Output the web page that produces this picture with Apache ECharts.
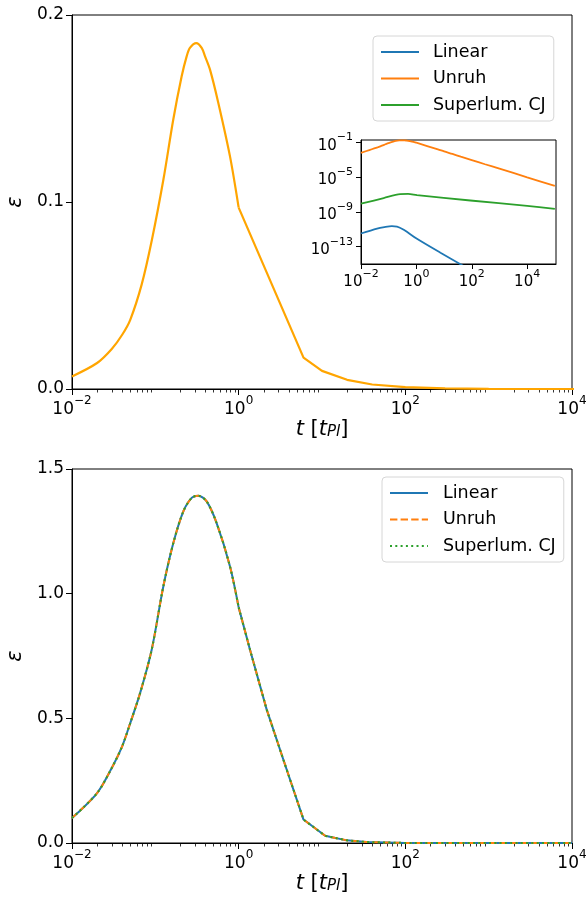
<!DOCTYPE html>
<html><head><meta charset="utf-8">
<script src="https://cdn.jsdelivr.net/npm/echarts@6/dist/echarts.min.js"></script>
<style>html,body{margin:0;padding:0;background:#fff}#c{width:587px;height:899px}</style>
</head><body><div id="c"></div>
<script>
// ---- data ----
// Unruh epsilon (top main panel in orange, inset in tab:orange)
const tUnruh   = [0.01, 0.02, 0.03, 0.04, 0.05, 0.0685, 0.091, 0.125, 0.164, 0.207, 0.238, 0.26, 0.31, 0.36, 0.394, 0.453, 0.57, 0.787, 1.0, 6.0, 10, 20, 40, 100, 300, 1000, 10000, 100000];
const epsUnruh = [0.0067, 0.0139, 0.0214, 0.029, 0.037, 0.0558, 0.0798, 0.112, 0.144, 0.1672, 0.178, 0.1824, 0.185, 0.1824, 0.178, 0.1708, 0.153, 0.1244, 0.097, 0.0168, 0.0097, 0.0049, 0.0024, 0.00097, 0.00032, 0.0001, 0.00001, 0.000001];
// Linear epsilon (inset)
const tLinear   = [0.01, 0.038, 0.07, 0.13, 0.2, 0.35, 1.05, 7.4, 39, 100, 100000];
const epsLinear = [3.3e-12, 1.23e-11, 1.8e-11, 2.3e-11, 2.1e-11, 8.9e-12, 8.1e-13, 2.0e-14, 9.5e-16, 1.6e-16, 3.2e-22];
// Superluminal CJ epsilon (inset)
const tSuper   = [0.01, 0.066, 0.26, 0.5, 1.05, 89, 10000, 100000];
const epsSuper = [8.9e-9, 4.0e-8, 1.15e-7, 1.2e-7, 8.7e-8, 2.1e-8, 5.0e-9, 2.3e-9];
// Bottom panel: all three models coincide
const tBottom   = [0.01, 0.02, 0.03, 0.04, 0.05, 0.0655, 0.0904, 0.1247, 0.1644, 0.2168, 0.2729, 0.328, 0.413, 0.544, 0.787, 1.0, 1.368, 2.17, 3.44, 6.0, 10.9, 19.8, 34, 100, 1000, 10000];
const epsBottom = [0.100, 0.200, 0.301, 0.388, 0.481, 0.600, 0.775, 1.029, 1.203, 1.33, 1.384, 1.393, 1.37, 1.283, 1.109, 0.945, 0.775, 0.535, 0.334, 0.094, 0.029, 0.0106, 0.004, 0.00035, 0.0000035, 0.00000004];

const seriesNames = ['Linear', 'Unruh', 'Superlum. CJ'];
const mainXTicks  = [0.01, 1, 100, 10000];
const insetXTicks = [0.01, 1, 100, 10000];
const insetYTicks = [1e-13, 1e-9, 1e-5, 1e-1];
const topYTicks = [0, 0.1, 0.2];
const bottomYTicks = [0, 0.5, 1.0, 1.5];

// ---- helpers ----
const zip = (a, b) => a.map((x, i) => [x, b[i]]);
// rising/peak part (t <= 1) drawn smooth, the sparse tail (t >= 1) straight
const head = (a, b) => zip(a, b).filter(p => p[0] <= 1);
const tail = (a, b) => zip(a, b).filter(p => p[0] >= 1);
const minorTicks = [];
for (let k = -2; k < 4; k++) for (let m = 2; m <= 9; m++) minorTicks.push(m * Math.pow(10, k));
const FONT = 'DejaVu Sans';
const C = {blue: '#1f77b4', orange: '#ff7f0e', green: '#2ca02c'};

function powLabel(v) {
  const e = Math.round(Math.log10(v));
  return '{b|10}{s|' + (e < 0 ? '\u2212' + (-e) : String(e)) + '}';
}
function richFor(size) {
  return {
    b: {fontSize: size, fontFamily: FONT, color: '#000', lineHeight: size + 6, verticalAlign: 'bottom'},
    s: {fontSize: Math.round(size * 0.7), fontFamily: FONT, color: '#000', verticalAlign: 'top'}
  };
}
const axLine = {show: true, lineStyle: {color: '#000', width: 1}};

function mainX(grid, withName) {
  return {
    type: 'log', gridIndex: grid, min: 0.01, max: 10000, position: 'bottom',
    axisLine: axLine, splitLine: {show: false}, minorTick: {show: false},
    axisTick: {show: true, customValues: mainXTicks, length: 6, lineStyle: {color: '#000', width: 1}},
    axisLabel: {customValues: mainXTicks, formatter: powLabel, rich: richFor(17), margin: 6},
    name: withName ? '{i|t} [{i|t}{sub|Pl}]' : '',
    nameLocation: 'middle', nameGap: 29,
    nameTextStyle: {fontSize: 21, fontFamily: FONT, color: '#000',
      rich: {i: {fontSize: 21, fontFamily: FONT, fontStyle: 'italic', color: '#000'},
             sub: {fontSize: 15, fontFamily: FONT, fontStyle: 'italic', color: '#000', verticalAlign: 'bottom', padding: [6, 0, 0, 0]}}}
  };
}
function minorX(grid) {
  return {
    type: 'log', gridIndex: grid, min: 0.01, max: 10000, position: 'bottom',
    axisLine: {show: false}, splitLine: {show: false}, axisLabel: {show: false},
    axisTick: {show: true, customValues: minorTicks, length: 3.5, lineStyle: {color: '#000', width: 0.8}}
  };
}
function mainY(grid, max, ticks) {
  return {
    type: 'value', gridIndex: grid, min: 0, max: max, interval: ticks[1] - ticks[0],
    axisLine: axLine, splitLine: {show: false},
    axisTick: {show: true, length: 6, lineStyle: {color: '#000', width: 1}},
    axisLabel: {fontSize: 17, fontFamily: FONT, color: '#000', margin: 8, formatter: v => v.toFixed(1)},
    name: '\u03b5', nameLocation: 'middle', nameRotate: 90, nameGap: 37,
    nameTextStyle: {fontSize: 21, fontFamily: FONT, fontStyle: 'italic', color: '#000'}
  };
}

const legendBase = {
  orient: 'vertical', itemWidth: 38, itemHeight: 14, itemGap: 6.5,
  backgroundColor: 'rgba(255,255,255,0.8)', borderColor: '#d6d6d6', borderWidth: 1, borderRadius: 4,
  selectedMode: false, itemStyle: {opacity: 0},
  textStyle: {fontSize: 17.5, fontFamily: FONT, color: '#000', lineHeight: 20}
};

function ln(name, xi, yi, data, color, width, type, smooth) {
  return {name: name, type: 'line', xAxisIndex: xi, yAxisIndex: yi, data: data, symbol: 'none',
    showSymbol: false, color: color, smooth: smooth, lineStyle: {width: width, type: type || 'solid'}};
}

const option = {
  animation: false,
  backgroundColor: '#fff',
  grid: [
    {left: 72, top: 15, width: 500, height: 374, show: true, borderColor: '#000', borderWidth: 1, backgroundColor: 'transparent', containLabel: false, outerBoundsMode: 'none'},
    {left: 72, top: 469, width: 500, height: 374, show: true, borderColor: '#000', borderWidth: 1, backgroundColor: 'transparent', containLabel: false, outerBoundsMode: 'none'},
    {left: 361, top: 140, width: 195, height: 124, show: true, borderColor: '#000', borderWidth: 1, backgroundColor: '#fff', containLabel: false, outerBoundsMode: 'none'}
  ],
  xAxis: [
    mainX(0, true), minorX(0), mainX(1, true), minorX(1),
    {
      type: 'log', gridIndex: 2, min: 0.01, max: 110000, position: 'bottom',
      axisLine: axLine, splitLine: {show: false}, minorTick: {show: false},
      axisTick: {show: true, customValues: insetXTicks, length: 5, lineStyle: {color: '#000', width: 1}},
      axisLabel: {customValues: insetXTicks, formatter: powLabel, rich: richFor(15), margin: 5}
    }
  ],
  yAxis: [
    mainY(0, 0.2, topYTicks), mainY(1, 1.5, bottomYTicks),
    {
      type: 'log', gridIndex: 2, min: 1e-15, max: 0.2,
      axisLine: axLine, splitLine: {show: false}, minorTick: {show: false},
      axisTick: {show: true, customValues: insetYTicks, length: 5, lineStyle: {color: '#000', width: 1}},
      axisLabel: {customValues: insetYTicks, formatter: powLabel, rich: richFor(15), margin: 8}
    }
  ],
  legend: [
    Object.assign({}, legendBase, {data: seriesNames, left: 373, top: 36, padding: [6, 8, 6, 7],
      textStyle: Object.assign({}, legendBase.textStyle, {padding: [0, 0, 0, 9]})}),
    Object.assign({}, legendBase, {data: seriesNames.map(n => n + ' '), left: 382, top: 477, padding: [6, 8, 6, 7],
      formatter: n => n.trim(),
      textStyle: Object.assign({}, legendBase.textStyle, {padding: [0, 0, 0, 10]})})
  ],
  series: [
    ln('main', 0, 0, head(tUnruh, epsUnruh), '#FFA500', 2.2, 'solid', 0.3),
    ln('main tail', 0, 0, tail(tUnruh, epsUnruh), '#FFA500', 2.2, 'solid', false),
    ln('Linear', 4, 2, zip(tLinear, epsLinear), C.blue, 1.8, 'solid', 0.3),
    ln('Unruh', 4, 2, zip(tUnruh, epsUnruh), C.orange, 1.8, 'solid', 0.3),
    ln('Superlum. CJ', 4, 2, zip(tSuper, epsSuper), C.green, 1.8, 'solid', 0.3),
    ln('Linear ', 2, 1, head(tBottom, epsBottom), C.blue, 2, 'solid', 0.3),
    ln('Linear tail', 2, 1, tail(tBottom, epsBottom), C.blue, 2, 'solid', false),
    ln('Unruh ', 2, 1, head(tBottom, epsBottom), C.orange, 2, [7.4, 3.2], 0.3),
    ln('Unruh tail', 2, 1, tail(tBottom, epsBottom), C.orange, 2, [7.4, 3.2], false),
    ln('Superlum. CJ ', 2, 1, head(tBottom, epsBottom), C.green, 2, [2, 3.3], 0.3),
    ln('Superlum. CJ tail', 2, 1, tail(tBottom, epsBottom), C.green, 2, [2, 3.3], false)
  ]
};
const chart = echarts.init(document.getElementById('c'), null, {renderer: 'canvas'});
chart.setOption(option);
</script></body></html>
